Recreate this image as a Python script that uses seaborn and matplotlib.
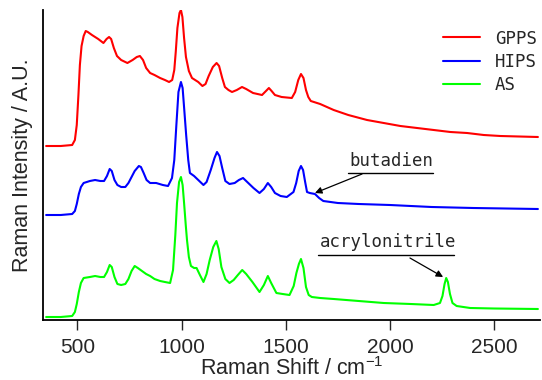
import numpy as np
import pandas as pd
import matplotlib
matplotlib.use("Agg")
import matplotlib.pyplot as plt
import seaborn as sns

# ---- data (arbitrary intensity units, offsets included) ----
gpps_x = [350, 420, 475, 488, 497, 505, 512, 520, 530, 540, 550, 570, 600, 625, 640, 652, 662, 675,
          690, 710, 740, 765, 785, 800, 815, 830, 849, 870, 897, 920, 940, 955, 965, 972, 980, 990,
          997, 1004, 1012, 1021, 1035, 1050, 1065, 1080, 1100, 1115, 1130, 1150, 1168, 1180, 1195,
          1208, 1225, 1242, 1265, 1290, 1310, 1343, 1386, 1405, 1419, 1432, 1448, 1480, 1529, 1545,
          1560, 1573, 1585, 1597, 1608, 1620, 1665, 1730, 1800, 1890, 1970, 2050, 2130, 2210, 2290,
          2370, 2450, 2530, 2620, 2710]
gpps_y = [174, 174, 175, 180, 195, 225, 255, 274, 284, 289, 288, 285, 281, 277, 281, 283, 281, 272,
          264, 260, 257, 260, 263, 264, 260, 252, 247, 245, 242, 240, 238, 240, 250, 268, 292, 307,
          310, 303, 282, 263, 249, 242, 240, 238, 234, 236, 244, 253, 257, 254, 242,
          233, 230, 228, 230, 233, 231, 227, 225, 229, 232, 229, 225, 223, 222, 228,
          240, 246, 242, 230, 223, 219, 216, 210, 205, 200, 197, 194, 192, 190, 188,
          187, 185, 184, 183.5, 183]

hips_x = [350, 420, 475, 488, 497, 507, 517, 530, 560, 585, 610, 628, 642, 655, 665, 678, 692, 710,
          730, 745, 760, 775, 795, 805, 818, 832, 849, 878, 910, 935, 954, 965, 975, 985, 997, 1005,
          1013, 1022, 1032, 1040, 1060, 1080, 1105, 1120, 1140, 1158, 1170, 1182, 1195, 1210, 1230,
          1255, 1275, 1295, 1315, 1345, 1374, 1395, 1414, 1430, 1448, 1475, 1505, 1537, 1550, 1562,
          1573, 1583, 1593, 1602, 1615, 1640, 1660, 1680, 1750, 1850, 2000, 2200, 2400, 2710]
hips_y = [105, 105, 106, 109, 116, 126, 133, 137, 139, 140, 139, 139, 144, 151, 149, 140, 135, 133,
          133, 137, 143, 149, 154, 153, 147, 140, 137, 137, 135, 134, 142, 160, 195, 228, 238, 232,
          210, 185, 160, 147, 144, 140, 135, 138, 150, 162, 168, 164, 152, 139, 136,
          137, 140, 142, 138, 132, 127, 131, 137, 133, 127, 124, 123, 128, 137, 149,
          154, 150, 138, 128, 127, 126, 122, 119, 117, 116, 115, 113, 112, 111]

as_x = [350, 420, 475, 488, 497, 507, 517, 530, 560, 585, 610, 628, 642, 655, 665, 678, 692, 710,
        730, 745, 760, 775, 790, 810, 830, 849, 870, 897, 920, 945, 959, 970, 978, 988, 997, 1005,
        1012, 1020, 1026, 1035, 1045, 1060, 1072, 1088, 1105, 1120, 1135, 1152, 1167, 1178, 1191,
        1210, 1230, 1250, 1270, 1291, 1310, 1340, 1374, 1395, 1414, 1430, 1455, 1485, 1518, 1538,
        1551, 1563, 1573, 1585, 1597, 1610, 1625, 1665, 1730, 1850, 1970, 2100, 2210, 2240, 2252,
        2262, 2270, 2278, 2288, 2300, 2320, 2385, 2500, 2710]
as_y = [3, 3, 4, 8, 16, 28, 37, 42, 43, 44, 43, 43, 48, 55, 53, 43, 36, 35,
        36, 41, 49, 54, 52, 49, 46, 44, 41, 39, 38, 37, 50, 85, 117, 138, 143, 135,
        117, 95, 80, 63, 54, 52, 52, 45, 38, 46, 60, 73, 79, 71, 53,
        41, 37, 40, 45, 50, 46, 38, 28, 35, 44, 37, 27, 26, 25, 34,
        47, 56, 61, 52, 33, 25, 23, 22, 21, 19, 17, 16, 15, 17, 24,
        36, 42, 38, 26, 17, 14, 12, 11.5, 11]

samples = ["GPPS", "HIPS", "AS"]
colors = ["#ff0000", "#0000ff", "#00ff00"]
xticks = [500, 1000, 1500, 2000, 2500]

df = pd.concat([
    pd.DataFrame({"shift": gpps_x, "intensity": gpps_y, "sample": "GPPS"}),
    pd.DataFrame({"shift": hips_x, "intensity": hips_y, "sample": "HIPS"}),
    pd.DataFrame({"shift": as_x, "intensity": as_y, "sample": "AS"}),
], ignore_index=True)

sns.set_style("white")
plt.rcParams["font.family"] = ["Liberation Sans", "DejaVu Sans"]

fig = plt.figure(figsize=(5.42, 3.80), dpi=100)
ax = fig.add_axes([43 / 542, 60 / 380, 497 / 542, 310 / 380])

sns.lineplot(data=df, x="shift", y="intensity", hue="sample", hue_order=samples,
             palette=colors, estimator=None, sort=False, linewidth=1.5, ax=ax)

ax.set_xlim(335, 2720)
ax.set_ylim(0, 310)
ax.set_xticks(xticks)
ax.set_xticklabels([str(t) for t in xticks])
ax.set_yticks([])
ax.tick_params(axis="x", direction="out", length=7, width=1, pad=6, labelsize=15, bottom=True)
for s in ["top", "right"]:
    ax.spines[s].set_visible(False)
for s in ["left", "bottom"]:
    ax.spines[s].set_color("black")
    ax.spines[s].set_linewidth(1.3)

ax.set_xlabel("Raman Shift / cm$^{\\mathregular{-1}}$", fontsize=15.5, labelpad=0)
ax.set_ylabel("Raman Intensity / A.U.", fontsize=15.5, labelpad=7)

mono = "DejaVu Sans Mono"
leg = ax.legend(loc="upper left", bbox_to_anchor=(0.805, 0.937), frameon=False,
                prop={"family": mono, "size": 12.5}, handlelength=2.1, handletextpad=0.9,
                labelspacing=0.3, borderpad=0, borderaxespad=0)

# annotations
ax.text(1804, 150, "butadien", family=mono, fontsize=12.5, va="bottom", ha="left")
ax.plot([1799, 2207], [147, 147], color="black", linewidth=1)
ax.annotate("", xy=(1640, 127), xytext=(1866, 146),
            arrowprops=dict(arrowstyle="-|>", color="black", lw=0.9, mutation_scale=10,
                            shrinkA=0, shrinkB=0))

ax.text(1664, 69, "acrylonitrile", family=mono, fontsize=12.5, va="bottom", ha="left")
ax.plot([1655, 2307], [65, 65], color="black", linewidth=1)
ax.annotate("", xy=(2255, 43), xytext=(2096, 62),
            arrowprops=dict(arrowstyle="-|>", color="black", lw=0.9, mutation_scale=10,
                            shrinkA=0, shrinkB=0))

fig.savefig("out.png", dpi=100)
